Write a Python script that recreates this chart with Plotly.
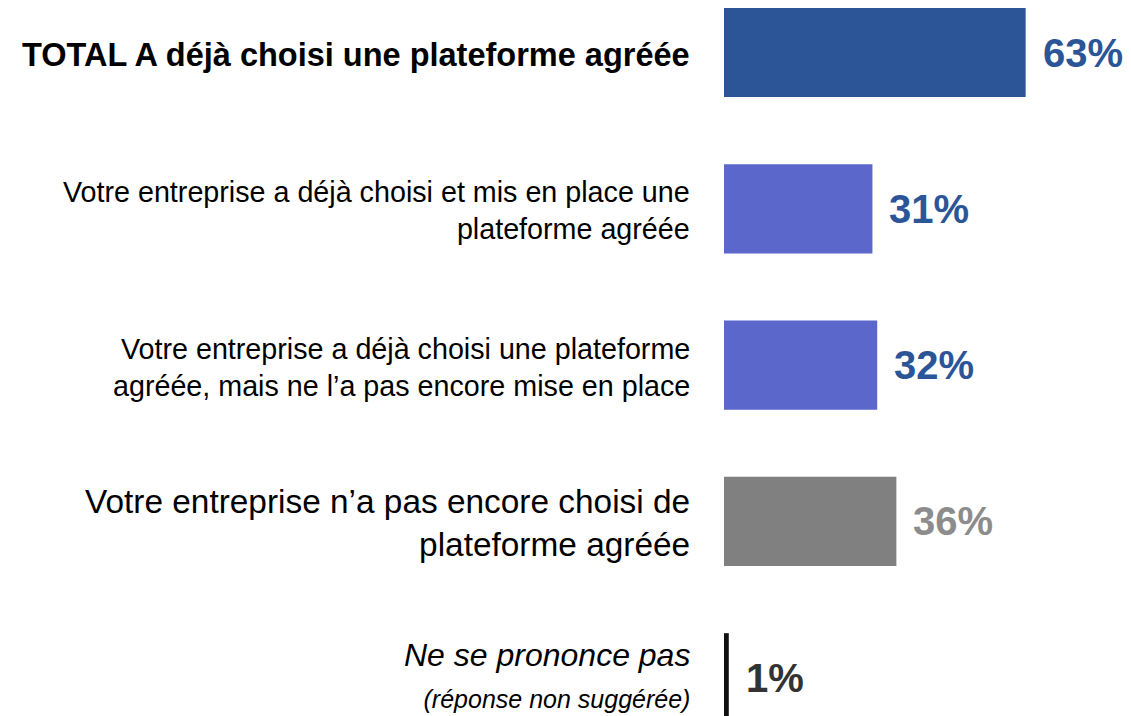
import plotly.graph_objects as go

categories = [
    "<b>TOTAL A déjà choisi une plateforme agréée</b>",
    "Votre entreprise a déjà choisi et mis en place une<br>plateforme agréée",
    "Votre entreprise a déjà choisi une plateforme<br>agréée, mais ne l’a pas encore mise en place",
    "Votre entreprise n’a pas encore choisi de<br>plateforme agréée",
    "<i>Ne se prononce pas</i><br><i><span style='font-size:25px'>(réponse non suggérée)</span></i>",
]
values = [63, 31, 32, 36, 1]
value_labels = ["63%", "31%", "32%", "36%", "1%"]
bar_colors = ["#2B5597", "#5B67CB", "#5B67CB", "#808080", "#111111"]
text_colors = ["#2B5597", "#2B5597", "#2B5597", "#8C8C8C", "#333333"]
label_sizes = [32.5, 28.7, 28.7, 33.4, 32]

ypos = list(range(len(categories)))

fig = go.Figure()
fig.add_trace(go.Bar(
    x=values, y=ypos, orientation="h",
    marker=dict(color=bar_colors, line=dict(width=0)),
    width=0.57, hoverinfo="skip",
))

W_PLOT = 1123 - 716
last = len(categories) - 1
for i, (cat, v, lab) in enumerate(zip(categories, values, value_labels)):
    fig.add_annotation(
        x=-32 / W_PLOT, xref="paper", y=i, yref="y",
        yshift=(3 if i == last else -2),
        text=cat, showarrow=False, xanchor="right", yanchor="middle",
        align="right",
        font=dict(family="Liberation Sans, Arial, sans-serif", size=label_sizes[i], color="#000000"),
    )
    fig.add_annotation(
        x=v, xref="x", y=i, yref="y", xshift=15,
        text=f"<b>{lab}</b>", showarrow=False, xanchor="left", yanchor="middle",
        font=dict(family="Liberation Sans, Arial, sans-serif", size=40, color=text_colors[i]),
    )

fig.update_layout(
    width=1123, height=708,
    margin=dict(l=716, r=0, t=0, b=0),
    paper_bgcolor="white", plot_bgcolor="white",
    showlegend=False,
    xaxis=dict(range=[0, 85], visible=False, fixedrange=True),
    yaxis=dict(range=[4.245, -0.285], visible=False, fixedrange=True),
)

fig.write_html("out.html")
